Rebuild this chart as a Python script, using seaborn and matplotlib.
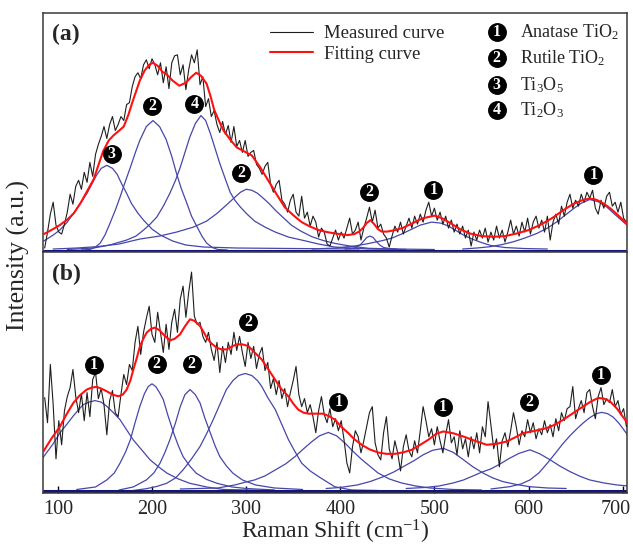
import numpy as np
import matplotlib
matplotlib.use("Agg")
import matplotlib.pyplot as plt
import matplotlib.transforms as mtransforms
import seaborn as sns

# ------------------------------------------------------------------ data
# common sampling grid of the measured spectra (cm-1)
meas_x = np.arange(86, 705, 3)

# ---- panel (a)
meas_a = [4, 20, 38, 50, 27, 20, 18, 28, 40, 58,
          48, 66, 72, 63, 80, 70, 90, 76, 98, 108,
          116, 126, 114, 128, 136, 122, 128, 136, 132, 148,
          150, 166, 176, 180, 174, 188, 193, 184, 194, 188,
          178, 190, 170, 186, 164, 190, 197, 198, 178, 188,
          163, 183, 198, 190, 203, 168, 176, 146, 154, 136,
          142, 128, 120, 131, 118, 127, 110, 126, 106, 112,
          100, 112, 96, 100, 102, 88, 84, 78, 86, 90,
          68, 60, 68, 72, 52, 48, 40, 52, 58, 40,
          36, 56, 34, 40, 26, 36, 30, 15, 24, 20,
          8, 6, 14, 22, 12, 20, 14, 24, 34, 18,
          22, 30, 12, 24, 34, 45, 30, 42, 24, 28,
          18, 14, 5, 16, 26, 20, 30, 18, 26, 34,
          24, 36, 28, 38, 30, 42, 50, 36, 44, 32,
          40, 28, 36, 24, 32, 20, 28, 18, 26, 14,
          22, 6, 20, 12, 22, 14, 24, 10, 20, 12,
          26, 14, 22, 10, 20, 32, 18, 26, 16, 30,
          20, 34, 18, 30, 36, 24, 32, 20, 36, 12,
          30, 38, 28, 46, 36, 50, 58, 44, 52, 46,
          58, 50, 60, 54, 62, 44, 38, 52, 44, 56,
          60, 46, 50, 40, 50, 34, 30]

fit_a_x = [85, 93, 102, 110, 117, 124, 131, 138, 143, 148, 154, 159, 164, 170, 175,
           179, 183, 187, 192, 197, 201, 206, 211, 216, 222, 229, 236, 242, 247, 252,
           258, 262, 266, 271, 276, 283, 290, 298, 306, 315, 324, 333, 341, 350, 359,
           368, 377, 386, 394, 401, 408, 415, 420, 424, 428, 432, 436, 440, 444, 450,
           458, 466, 476, 487, 500, 508, 517, 527, 538, 550, 563, 575, 587, 600, 612,
           625, 637, 648, 657, 665, 672, 680, 687, 695, 705]
fit_a_y = [18, 22, 27, 32.5, 39, 49, 61, 73, 87, 101, 112, 117, 121, 126, 138,
           150, 161, 172, 182, 188, 190, 187, 181, 178, 172, 167, 170, 176, 180, 177,
           169, 157, 143, 132, 122, 113, 105, 101, 97, 85, 71, 57, 45, 37, 30,
           25.5, 22, 20, 18.7, 17.8, 17, 18, 20.5, 24, 29, 32, 28, 23, 20.5, 20.5,
           22, 24, 28.5, 33.7, 36.5, 34, 29, 23, 18.5, 16, 15.3, 16, 18.5, 22, 27,
           34, 42, 48.5, 52, 53.7, 52.5, 48.5, 43.7, 37, 28]

a_ti3o5_x = [85, 95, 102, 110, 116, 124, 131, 136, 141, 146, 152, 158, 163, 168, 173,
             178, 185, 191, 200, 209, 222, 236, 255, 290, 350, 420]
a_ti3o5_y = [11, 17, 22, 30, 38, 49, 59, 68, 77, 84, 87, 84, 78, 68, 59,
             49, 39, 32, 23, 17, 11, 7, 5, 4, 3.5, 3]
a_rut1_x = [125, 134, 140, 145, 150, 155, 161, 166, 171, 177, 182, 187, 194, 201, 208,
            215, 221, 226, 231, 237, 242, 248, 253, 258, 264, 270, 280]
a_rut1_y = [2, 2.5, 5, 9, 17, 28, 42, 55, 69, 85, 99, 112, 126, 132, 126,
            113, 96, 79, 64, 49, 36, 25, 16, 9, 4.5, 2.5, 2]
a_ti2o3_x = [110, 138, 155, 173, 183, 191, 198, 205, 212, 219, 225, 230, 235, 240, 246,
             252, 257, 262, 267, 272, 278, 283, 288, 294, 301, 309, 320, 331, 345, 359,
             377, 394, 430, 470]
a_ti2o3_y = [2.5, 4, 7, 12, 16, 22, 28, 35, 46, 59, 72, 85, 100, 115, 129,
             137, 132, 119, 104, 89, 73, 60, 52, 45, 38, 31, 25, 20, 15, 12,
             8, 5, 3, 2.5]
a_rut2_x = [95, 120, 141, 165, 187, 208, 226, 244, 258, 269, 280, 288, 294, 300, 306,
            312, 317, 324, 331, 340, 348, 358, 370, 382, 394, 410, 430, 460, 500]
a_rut2_y = [3, 4, 5.3, 8, 13, 16, 20, 25, 31, 38.7, 48, 55, 60, 63, 62,
            59, 55, 49, 42, 34, 27, 21, 15.3, 11.5, 8.7, 6, 3.7, 3, 2.5]
a_rut3_x = [405, 412, 417, 421, 425, 428, 431.5, 435, 438, 442, 446, 452, 460]
a_rut3_y = [3, 3.5, 4.5, 7, 11, 14.5, 16, 14.5, 11, 7, 4.5, 3.5, 3]
a_ana1_x = [370, 395, 415, 430, 445, 455, 465, 475, 485, 497, 507, 515, 523, 531, 540,
            550, 560, 575, 595, 620]
a_ana1_y = [3, 4, 6, 8.5, 11.5, 14, 18, 22.5, 27, 30, 29, 26, 21.5, 17, 13,
            9.5, 6.5, 4.5, 3.5, 3]
a_ana2_x = [530, 545, 559, 572, 584, 596, 609, 620, 630, 639, 648, 656, 665, 674, 683,
            692, 702.5, 706]
a_ana2_y = [3, 4, 5.3, 7.5, 10.3, 14, 18.7, 24, 30.3, 37, 43.7, 49, 52.7, 50.5, 45.3,
            37.5, 28.7, 26]
base_a_x = [84, 706]
base_a_y = [1.5, 1.5]

ann_a_x = [157, 200, 245, 295, 431, 499, 669]
ann_a_y = [98, 147, 149, 79, 60, 62, 77]
ann_a_n = ["3", "2", "4", "2", "2", "1", "1"]

# ---- panel (b)
meas_b = [95, 70, 128, 88, 34, 72, 48, 82, 96, 105,
          123, 96, 80, 99, 72, 100, 76, 113, 120, 94,
          104, 88, 58, 92, 102, 80, 76, 98, 118, 108,
          128, 122, 150, 166, 138, 160, 174, 186, 158, 150,
          180, 160, 140, 168, 143, 170, 183, 160, 193, 206,
          175, 200, 220, 176, 168, 170, 156, 150, 160, 143,
          132, 150, 120, 146, 130, 150, 138, 160, 142, 156,
          140, 126, 150, 134, 146, 124, 138, 145, 122, 130,
          104, 114, 98, 112, 94, 104, 86, 100, 112, 126,
          98, 86, 94, 80, 88, 76, 60, 82, 96, 78,
          70, 84, 66, 74, 62, 72, 53, 30, 20, 46,
          62, 56, 40, 52, 66, 80, 86, 50, 38, 33,
          60, 76, 44, 34, 52, 40, 22, 46, 58, 42,
          36, 52, 40, 62, 86, 72, 56, 64, 48, 66,
          52, 40, 58, 73, 50, 56, 38, 62, 44, 54,
          36, 56, 44, 60, 40, 66, 56, 91, 68, 44,
          54, 26, 52, 60, 46, 62, 80, 66, 48, 62,
          56, 73, 60, 70, 54, 64, 58, 72, 60, 68,
          56, 74, 62, 80, 72, 84, 86, 106, 74, 84,
          92, 80, 100, 103, 86, 74, 96, 105, 88, 94,
          90, 103, 86, 92, 78, 84, 66]

fit_b_x = [84.6, 93, 102.3, 109, 116.4, 123, 130.7, 136, 141.3, 146, 151.9, 158, 164.3,
           169, 173.1, 177, 180.2, 184, 187.3, 191, 194.3, 199, 203.2, 208, 213, 219.1,
           224, 229.8, 235, 240.4, 245, 251, 255, 258.1, 263, 268.7, 274, 279.4, 285,
           290, 296, 302.3, 309, 316.5, 323, 330.7, 337, 344.8, 350, 355.4, 361, 366.1,
           374, 381.9, 388, 394.4, 401, 408.5, 415, 422.8, 431, 440.4, 449, 458.2, 467,
           475.9, 485, 493.5, 502, 509.5, 520, 530.7, 543, 555.6, 566, 576.8, 586,
           594.4, 607, 619.3, 628, 637, 648, 658.2, 666, 674.1, 680, 686.5, 694, 702.5, 705]
fit_b_y = [41.3, 54, 66.3, 78, 89.7, 97, 103, 105, 105.7, 104, 101.3, 98, 96.3,
           98, 103, 112, 123, 135, 146.3, 154, 159.7, 163.5, 164.7, 162, 157, 152,
           153.5, 158, 166, 173, 171.5, 166.3, 160, 154.7, 149, 144.7, 143, 143, 146,
           148, 148, 146.3, 140, 133, 124, 113, 104, 96.3, 89, 83, 80, 79,
           79, 79, 76.5, 73, 66, 59.7, 53.5, 48, 43.5, 40.3, 39, 39, 40.5,
           43, 48, 53, 59, 61.3, 59.5, 56.3, 52, 48, 49, 51.3, 55.5,
           59.7, 62, 64.7, 68, 73, 80, 86.3, 91, 94.7, 94, 91.3, 84, 73, 70]

b_ana1_x = [84, 95, 102, 110, 116, 122, 127, 133, 139.5, 146, 152, 159, 166, 173, 180,
            189, 198, 207, 216, 228, 240, 258, 276, 300, 330]
b_ana1_y = [35, 49, 59.7, 69, 76.3, 83, 88, 90.5, 92, 90.5, 86.3, 80, 73, 63, 53,
            43, 33, 26, 19.7, 14, 9.7, 6, 3.5, 3, 2.5]
b_rut1_x = [120, 140, 152, 160, 166, 172, 177, 182, 187, 192, 196, 200, 204, 208, 212,
            217, 223, 228, 233, 240, 247, 258, 269, 285, 300, 330]
b_rut1_y = [3.5, 6, 13, 20, 29.7, 41, 53, 70, 86, 99, 106, 108.7, 106, 100, 93,
            77, 59.7, 47, 36.3, 27, 19.7, 13.5, 9.7, 6, 4.5, 3]
b_rut2_x = [165, 180, 194, 202, 208.5, 214, 219, 225, 230, 235, 240.4, 246, 251, 256,
            262, 267, 272, 279, 286, 296, 310, 330, 360]
b_rut2_y = [3, 6, 13, 20, 29.7, 41, 53, 70, 86, 98, 103, 98, 89.7, 75,
            59.7, 47, 36.3, 27, 19.7, 13, 8, 5, 3.5]
b_rut3_x = [180, 194, 205, 215.6, 225, 233, 242, 251, 258, 265, 272, 279, 286, 292, 299,
            306, 312, 316.5, 323, 331, 338, 345, 352, 359, 368, 377, 386, 394, 412, 440]
b_rut3_y = [2.5, 4.3, 6.5, 9.7, 15, 23, 34, 46.3, 59, 73, 88, 103, 112, 117, 119,
            117, 112, 106.3, 95, 83, 68, 53, 41, 29.7, 22, 16.3, 11, 6.3, 3, 2.5]
b_ana2_x = [230, 270, 288, 300, 309, 320, 331, 342, 352, 361, 370, 378, 387.3, 396, 405,
            413, 422, 431, 440, 452, 465, 480, 495, 520, 550]
b_ana2_y = [4, 5, 8, 11, 13, 17, 23, 29, 36.3, 44, 51.3, 57, 60.3, 57, 49.7,
            42, 34, 27, 20, 14, 10, 7, 5, 3.5, 3]
b_ana3_x = [385, 400, 418, 432, 446, 457, 467, 478, 488, 498, 509.5, 520, 531, 541, 552,
            562, 573, 587, 601, 620, 640]
b_ana3_y = [4.5, 5.5, 8, 11.5, 16.3, 21, 26.3, 32, 38, 42.5, 44.5, 40.5, 33, 26, 19.7,
            15, 11.3, 8.5, 6.3, 5, 4.5]
b_rut4_x = [470, 490, 505, 520, 531, 541, 551, 560, 570, 580, 590, 601.5, 612, 623, 633,
            644, 655, 665, 680, 694, 706]
b_rut4_y = [4.5, 5.5, 7, 10, 13, 17, 21, 24, 29, 34.7, 39.5, 43, 39, 33, 27,
            21.3, 16.5, 13, 10, 8, 7]
b_ana4_x = [560, 580, 592, 601.5, 611, 620, 628, 637, 645, 652, 658, 665, 672, 677.7,
            684, 690, 696, 702.5, 706]
b_ana4_y = [4, 6.3, 9, 13, 20, 29.7, 39, 49.7, 58, 64.5, 69.7, 75, 79, 80.3,
            79, 75.5, 69.5, 61.3, 57]
base_b_x = [84, 706]
base_b_y = [1.5, 1.5]

ann_b_x = [138, 205, 242, 302, 398, 509, 601, 677]
ann_b_y = [127, 128, 128, 170, 91, 86, 91, 118]
ann_b_n = ["1", "2", "2", "2", "1", "1", "2", "1"]

legend_nums = ["1", "2", "3", "4"]
legend_names = ["Anatase TiO$_2$", "Rutile TiO$_2$", "Ti$_3$O$_5$", "Ti$_2$O$_3$"]
x_ticks = [100, 200, 300, 400, 500, 600, 700]

# ------------------------------------------------------------------ style
sns.set_style("white")
plt.rcParams["font.family"] = ["Liberation Serif", "DejaVu Serif"]
plt.rcParams["mathtext.fontset"] = "custom"
plt.rcParams["mathtext.rm"] = "Liberation Serif"
plt.rcParams["mathtext.it"] = "Liberation Serif:italic"
plt.rcParams["mathtext.bf"] = "Liberation Serif:bold"

BLUE = "#4646aa"
NAVY = "#14147a"
RED = "#ff1010"
BLACK = "#1e1e1e"
SPINE = "#3a3a3a"

W, H = 633, 549
fig = plt.figure(figsize=(W / 100, H / 100), dpi=100)
L, R = 43 / W, 627 / W
ax_a = fig.add_axes([L, 1 - 252 / H, R - L, (252 - 13) / H])
ax_b = fig.add_axes([L, 1 - 493 / H, R - L, (493 - 252) / H])


def circ_label(ax, xs, ys, ns, transform=None, size=185, fs=11.5):
    kw = {} if transform is None else {"transform": transform}
    ax.scatter(xs, ys, s=size, c="black", zorder=6, linewidths=0, clip_on=False, **kw)
    for x, y, n in zip(xs, ys, ns):
        ax.text(x, y, n, color="white", fontsize=fs, fontweight="bold",
                ha="center", va="center", zorder=7, **kw)


def panel(ax, peaks, base_x, base_y, meas, fx, fy, labels):
    for px, py in peaks:
        sns.lineplot(x=px, y=py, ax=ax, color=BLUE, linewidth=0.9,
                     estimator=None, sort=False, legend=False, zorder=2)
    sns.lineplot(x=base_x, y=base_y, ax=ax, color=NAVY, linewidth=2.2,
                 estimator=None, legend=False, zorder=2)
    sns.lineplot(x=meas_x, y=meas, ax=ax, color=BLACK, linewidth=0.8,
                 estimator=None, sort=False, zorder=3,
                 label=labels[0] if labels else None, legend=False)
    sns.lineplot(x=fx, y=fy, ax=ax, color=RED, linewidth=1.5,
                 estimator=None, sort=False, zorder=4,
                 label=labels[1] if labels else None, legend=False)
    ax.set_xlim(84.2, 704.6)
    ax.set_ylim(0, 240)
    ax.set_yticks([])
    ax.set_ylabel("")
    ax.set_xlabel("")
    for s in ax.spines.values():
        s.set_color(SPINE)
        s.set_linewidth(1.1)
    ax.set_xticks(x_ticks)
    ax.tick_params(axis="x", direction="in", length=5, width=1, color="black",
                   labelsize=14.5, pad=5, bottom=True)


panel(ax_a,
      [(a_ti3o5_x, a_ti3o5_y), (a_rut1_x, a_rut1_y), (a_ti2o3_x, a_ti2o3_y),
       (a_rut2_x, a_rut2_y), (a_rut3_x, a_rut3_y), (a_ana1_x, a_ana1_y),
       (a_ana2_x, a_ana2_y)],
      base_a_x, base_a_y, meas_a, fit_a_x, fit_a_y,
      ["Measured curve", "Fitting curve"])
panel(ax_b,
      [(b_ana1_x, b_ana1_y), (b_rut1_x, b_rut1_y), (b_rut2_x, b_rut2_y),
       (b_rut3_x, b_rut3_y), (b_ana2_x, b_ana2_y), (b_ana3_x, b_ana3_y),
       (b_rut4_x, b_rut4_y), (b_ana4_x, b_ana4_y)],
      base_b_x, base_b_y, meas_b, fit_b_x, fit_b_y, None)

ax_a.tick_params(axis="x", labelbottom=False, bottom=False)

# shift the last tick label slightly left so it stays inside the figure
last = ax_b.get_xticklabels()[-1]
last.set_transform(last.get_transform() +
                   mtransforms.ScaledTranslation(-7 / 100, 0, fig.dpi_scale_trans))

circ_label(ax_a, ann_a_x, ann_a_y, ann_a_n)
circ_label(ax_b, ann_b_x, ann_b_y, ann_b_n)

ax_a.text(0.015, 0.912, "(a)", transform=ax_a.transAxes, fontsize=17,
          fontweight="bold", ha="left", va="center")
ax_b.text(0.015, 0.905, "(b)", transform=ax_b.transAxes, fontsize=17,
          fontweight="bold", ha="left", va="center")

leg = ax_a.legend(loc="upper left", bbox_to_anchor=((270 - 43) / 584, (252 - 25) / 239),
                  frameon=False, fontsize=13.5, handlelength=2.3, handletextpad=0.6,
                  labelspacing=0.2, borderpad=0, borderaxespad=0)

leg_y = [(252 - py) / 239 for py in (32.3, 58.3, 85, 110)]
cx = (496.7 - 43) / 584
circ_label(ax_a, [cx] * 4, leg_y, legend_nums, transform=ax_a.transAxes)
for yy, name in zip(leg_y, legend_names):
    ax_a.text((520 - 43) / 584, yy, name, transform=ax_a.transAxes, fontsize=13,
              ha="left", va="center")

ax_b.set_xlabel("Raman Shift (cm$^{-1}$)", fontsize=17, labelpad=-1)
fig.text(18 / W, 1 - 255 / H, "Intensity (a.u.)", rotation=90, fontsize=18.5,
         ha="center", va="center")

fig.savefig("out.png", dpi=100)
